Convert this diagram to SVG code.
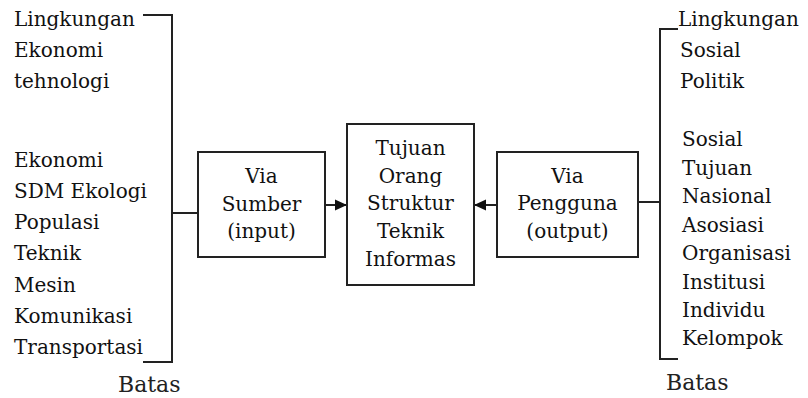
<svg xmlns="http://www.w3.org/2000/svg" width="808" height="398" viewBox="0 0 808 398">
<defs>
<style>
.t{font-family:"DejaVu Serif","Liberation Serif",serif;font-size:20px;fill:#111}
.c{text-anchor:middle}
.b{font-size:22px;fill:#222}
.ln{stroke:#222;stroke-width:2;fill:none}
.box{stroke:#222;stroke-width:2;fill:#fff}
</style>
<marker id="ah" markerUnits="userSpaceOnUse" markerWidth="13" markerHeight="13" viewBox="0 0 13 13" refX="12" refY="6.5" orient="auto">
<path d="M0,1 L12,6.5 L0,12 Z" fill="#111"/>
</marker>
</defs>
<rect width="808" height="398" fill="#fff"/>
<g id="connectors">
<polyline class="ln" points="143,15 172,15 172,362 143,362"/>
<line class="ln" x1="172" y1="213" x2="198" y2="213"/>
<line class="ln" x1="325" y1="205" x2="347" y2="205" marker-end="url(#ah)"/>
<line class="ln" x1="497" y1="205" x2="474" y2="205" marker-end="url(#ah)"/>
<line class="ln" x1="638" y1="202" x2="660" y2="202"/>
<polyline class="ln" points="678,29 660,29 660,359 678,359"/>
</g>
<g id="left-env">
<text class="t" x="14" y="26">Lingkungan</text>
<text class="t" x="14" y="57">Ekonomi</text>
<text class="t" x="14" y="88">tehnologi</text>
<text class="t" x="14" y="167">Ekonomi</text>
<text class="t" x="14" y="198">SDM Ekologi</text>
<text class="t" x="14" y="229">Populasi</text>
<text class="t" x="14" y="260">Teknik</text>
<text class="t" x="14" y="292">Mesin</text>
<text class="t" x="14" y="323">Komunikasi</text>
<text class="t" x="14" y="354">Transportasi</text>
<text class="t b" x="118" y="392">Batas</text>
</g>
<g id="via-sumber">
<rect class="box" x="198" y="152" width="127" height="105"/>
<text class="t c" x="261.5" y="183">Via</text>
<text class="t c" x="261.5" y="211">Sumber</text>
<text class="t c" x="261.5" y="238">(input)</text>
</g>
<g id="center">
<rect class="box" x="347" y="124" width="127" height="161"/>
<text class="t c" x="410.5" y="155">Tujuan</text>
<text class="t c" x="410.5" y="183">Orang</text>
<text class="t c" x="410.5" y="210">Struktur</text>
<text class="t c" x="410.5" y="238">Teknik</text>
<text class="t c" x="410.5" y="266">Informas</text>
</g>
<g id="via-pengguna">
<rect class="box" x="497" y="152" width="141" height="105"/>
<text class="t c" x="567.5" y="183">Via</text>
<text class="t c" x="567.5" y="210">Pengguna</text>
<text class="t c" x="567.5" y="238">(output)</text>
</g>
<g id="right-env">
<text class="t" x="678" y="26">Lingkungan</text>
<text class="t" x="680" y="57">Sosial</text>
<text class="t" x="680" y="88">Politik</text>
<text class="t" x="682" y="146">Sosial</text>
<text class="t" x="682" y="175">Tujuan</text>
<text class="t" x="682" y="203">Nasional</text>
<text class="t" x="682" y="232">Asosiasi</text>
<text class="t" x="682" y="260">Organisasi</text>
<text class="t" x="682" y="289">Institusi</text>
<text class="t" x="682" y="317">Individu</text>
<text class="t" x="682" y="345">Kelompok</text>
<text class="t b" x="666" y="390">Batas</text>
</g>
</svg>
